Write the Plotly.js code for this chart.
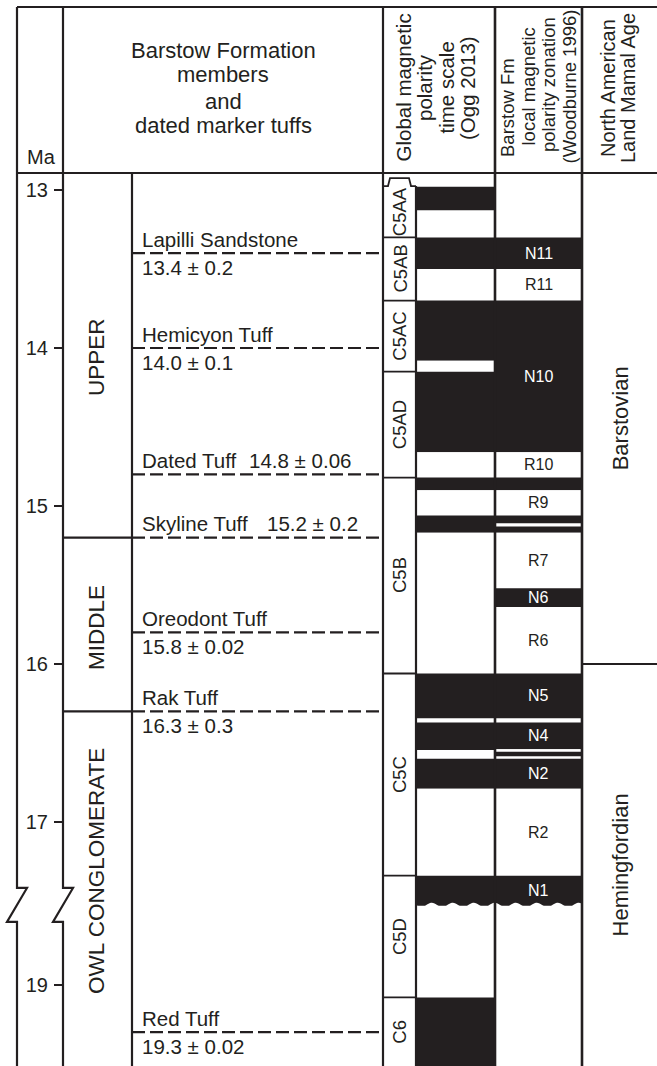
<!DOCTYPE html>
<html><head><meta charset="utf-8">
<script src="https://cdn.plot.ly/plotly-3.0.1.min.js"></script>
<style>html,body{margin:0;padding:0;background:#fff}#chart{width:657px;height:1066px}</style>
</head><body><div id="chart"></div>
<script>
// ================= DATA (ages in Ma) =================
const maTicks    = [13, 14, 15, 16, 17, 19];
const maTickText = ['13', '14', '15', '16', '17', '19'];

const tuffNames = ['Lapilli Sandstone', 'Hemicyon Tuff', 'Dated Tuff', 'Skyline Tuff', 'Oreodont Tuff', 'Rak Tuff', 'Red Tuff'];
const tuffAges  = [13.4, 14.0, 14.8, 15.2, 15.8, 16.3, 19.3];
const tuffDates = ['13.4 ± 0.2', '14.0 ± 0.1', '14.8 ± 0.06', '15.2 ± 0.2', '15.8 ± 0.02', '16.3 ± 0.3', '19.3 ± 0.02'];

const memberNames = ['UPPER', 'MIDDLE', 'OWL CONGLOMERATE'];
const memberTop   = [12.89, 15.2, 16.3];
const memberBase  = [15.2, 16.3, 19.52];

const chronNames = ['C5AA', 'C5AB', 'C5AC', 'C5AD', 'C5B', 'C5C', 'C5D', 'C6'];
const chronTop   = [12.975, 13.30, 13.70, 14.15, 14.82, 16.06, 17.34, 19.08];
const chronBase  = [13.30, 13.70, 14.15, 14.82, 16.06, 17.34, 19.08, 19.52];

// Global polarity time scale (Ogg 2013): 1 = normal (black), 0 = reversed (white)
const gptsTop  = [12.89, 12.98, 13.13, 13.30, 13.50, 13.70, 14.08, 14.15, 14.66, 14.82, 14.90, 15.06, 15.17, 16.06, 16.345, 16.37, 16.545, 16.60, 16.79, 17.34, 18.50, 19.08];
const gptsBase = [12.98, 13.13, 13.30, 13.50, 13.70, 14.08, 14.15, 14.66, 14.82, 14.90, 15.06, 15.17, 16.06, 16.345, 16.37, 16.545, 16.60, 16.79, 17.34, 17.525, 19.08, 19.52];
const gptsPol  = [0, 1, 0, 1, 0, 1, 0, 1, 0, 1, 0, 1, 0, 1, 0, 1, 0, 1, 0, 1, 0, 1];

// Barstow Fm local magnetic polarity zonation (Woodburne 1996)
const locTop   = [12.89, 13.30, 13.50, 13.70, 14.66, 14.82, 14.90, 15.06, 15.11, 15.13, 15.17, 15.52, 15.64, 16.06, 16.345, 16.37, 16.54, 16.555, 16.585, 16.60, 16.79, 17.34, 18.50];
const locBase  = [13.30, 13.50, 13.70, 14.66, 14.82, 14.90, 15.06, 15.11, 15.13, 15.17, 15.52, 15.64, 16.06, 16.345, 16.37, 16.54, 16.555, 16.585, 16.60, 16.79, 17.34, 17.525, 19.52];
const locPol   = [0, 1, 0, 1, 0, 1, 0, 1, 0, 1, 0, 1, 0, 1, 0, 1, 0, 1, 0, 1, 0, 1, 0];
const locLabel = ['', 'N11', 'R11', 'N10', 'R10', '', 'R9', '', '', '', 'R7', 'N6', 'R6', 'N5', '', 'N4', '', '', '', 'N2', 'R2', 'N1', ''];

const nalmaNames = ['Barstovian', 'Hemingfordian'];
const nalmaTop   = [12.89, 16.0];
const nalmaBase  = [16.0, 19.52];

const breakAge = 17.525;  // unconformity / axis break
const breakGap = 0.97;    // time omitted by the break

// ================= LAYOUT / STYLE =================
const W = 657, H = 1066;
const PX13 = 190, PXMA = 158;                // pixel row of 13 Ma, pixels per Ma
const INK = '#231f20';
const FONT = 'Liberation Sans, Arial, Helvetica, sans-serif';
const X = {maL: 17, maR: 63, memR: 132, gL: 383, gC: 416, gR: 495, lR: 582, end: 657};
const HDR_TOP = 7, HDR_BOT = 173;

function disp(a) { return a <= breakAge ? a : Math.max(breakAge, a - breakGap); }
function pyd(py) { return 13 + (py - PX13) / PXMA; }   // pixel row -> axis value
const dpx = 1 / PXMA;                                  // one pixel in axis units
const yTopAxis = pyd(0), yBotAxis = pyd(H);

const shapes = [];
const ann = [];
function rect(x0, x1, y0, y1, fill) {
  shapes.push({type: 'rect', xref: 'x', yref: 'y', x0, x1, y0, y1, fillcolor: fill, line: {width: 0}});
}
function seg(x0, y0, x1, y1, w, dash) {
  shapes.push({type: 'line', xref: 'x', yref: 'y', x0, y0, x1, y1, line: {color: INK, width: w || 2.2, dash: dash || 'solid'}});
}
function poly(pts, w, fill, closed) {
  const d = 'M' + pts.map(p => p[0].toFixed(2) + ',' + p[1].toFixed(5)).join('L') + (closed ? 'Z' : '');
  shapes.push({type: 'path', xref: 'x', yref: 'y', path: d,
    fillcolor: fill || 'rgba(0,0,0,0)', line: {color: INK, width: w}});
}
function text(x, y, t, size, opts) {
  ann.push(Object.assign({x, y, xref: 'x', yref: 'y', text: t, showarrow: false,
    font: {family: FONT, size, color: INK}, xanchor: 'center', yanchor: 'middle'}, opts || {}));
}

// ---- polarity columns ----
function polColumn(tops, bases, pols, x0, x1) {
  for (let i = 0; i < tops.length; i++) {
    const y0 = disp(tops[i]), y1 = disp(bases[i]);
    if (!pols[i]) { rect(x0, x1, y0, y1, '#ffffff'); continue; }
    if (bases[i] === breakAge) {
      const pts = [[x0, y0], [x1, y0]];
      for (let x = x1; x >= x0 - 0.01; x -= 1) {
        pts.push([x, y1 + 2.2 * dpx * Math.sin(2 * Math.PI * (x - X.gC) / 21)]);
      }
      poly(pts, 0, INK, true);
    } else {
      rect(x0, x1, y0, y1, INK);
    }
  }
}
polColumn(gptsTop, gptsBase, gptsPol, X.gC, X.gR);
polColumn(locTop, locBase, locPol, X.gR, X.lR);

// ---- frame ----
seg(X.maL, pyd(HDR_TOP), X.end, pyd(HDR_TOP));
seg(X.maL, pyd(HDR_BOT), X.end, pyd(HDR_BOT));
const zb = disp(breakAge);
function zigzag(x) {
  poly([[x, pyd(HDR_TOP)], [x, zb - 17 * dpx], [x + 10, zb - 17 * dpx], [x - 10, zb + 17 * dpx],
        [x, zb + 17 * dpx], [x, yBotAxis]], 2.2, null, false);
}
zigzag(X.maL);
zigzag(X.maR);
seg(X.memR, pyd(HDR_BOT), X.memR, yBotAxis);
seg(X.gL, pyd(HDR_TOP), X.gL, yBotAxis);
seg(X.gC, disp(chronTop[0]), X.gC, yBotAxis);
seg(X.gR, pyd(HDR_TOP), X.gR, yBotAxis, 2.6);
seg(X.lR, pyd(HDR_TOP), X.lR, yBotAxis, 2.6);

// chron boxes
const ct = disp(chronTop[0]);
poly([[X.gL, ct], [X.gL + 5, ct], [X.gL + 7, ct - 8 * dpx], [X.gC - 7, ct - 8 * dpx], [X.gC - 5, ct], [X.gC, ct]], 1.8, null, false);
for (let i = 1; i < chronTop.length; i++) seg(X.gL, disp(chronTop[i]), X.gC, disp(chronTop[i]), 1.8);
chronNames.forEach((n, i) => text((X.gL + X.gC) / 2, (disp(chronTop[i]) + disp(chronBase[i])) / 2, n, 18.5, {textangle: -90}));

// members
for (let i = 1; i < memberTop.length; i++) seg(X.maR, disp(memberTop[i]), X.memR, disp(memberTop[i]));
const memberLabelPx = [357, 628, 871];
memberNames.forEach((n, i) => text(96, pyd(memberLabelPx[i]), n, 22.5, {textangle: -90}));

// tuffs
const inlineDateX = {2: 247, 3: 265};
tuffAges.forEach((a, i) => {
  seg(X.memR, disp(a), X.gL, disp(a), 2.2, '13px,5px');
  text(140, disp(a), tuffNames[i], 20.5, {xanchor: 'left', yshift: 14});
  if (inlineDateX[i] !== undefined) text(inlineDateX[i], disp(a), tuffDates[i], 20.5, {xanchor: 'left', yshift: 14});
  else text(140, disp(a), tuffDates[i], 20.5, {xanchor: 'left', yshift: -14});
});

// local zone labels
locLabel.forEach((l, i) => {
  if (!l) return;
  text((X.gR + X.lR) / 2, (disp(locTop[i]) + disp(locBase[i])) / 2, l, 16,
       {font: {family: FONT, size: 16, color: locPol[i] ? '#ffffff' : INK}});
});

// NALMA
seg(X.lR, disp(nalmaBase[0]), X.end, disp(nalmaBase[0]));
nalmaNames.forEach((n, i) => {
  const c = (disp(nalmaTop[i]) + disp(nalmaBase[i])) / 2;
  text(620, c, n, 22, {textangle: -90});
});

// ---- header texts ----
text(41, pyd(157), 'Ma', 20);
['Barstow Formation', 'members', 'and', 'dated marker tuffs'].forEach((t, i) =>
  text((X.maR + X.gL) / 2, pyd([50, 74, 101, 125][i]), t, 22));
['Global magnetic', 'polarity', 'time scale', '(Ogg 2013)'].forEach((t, i) =>
  text([402.5, 424, 445.5, 467][i], pyd(88), t, 20.5, {textangle: -90}));
['Barstow Fm', 'local magnetic', 'polarity zonation', '(Woodburne 1996)'].forEach((t, i) =>
  text([507, 527.5, 548, 568.5][i], pyd([108, 87, 85, 87][i]), t, 18.5, {textangle: -90}));
['North American', 'Land Mamal Age'].forEach((t, i) =>
  text([608, 628][i], pyd(88), t, 20, {textangle: -90}));

const layout = {
  width: W, height: H, margin: {l: 0, r: 0, t: 0, b: 0, pad: 0},
  paper_bgcolor: '#ffffff', plot_bgcolor: '#ffffff', showlegend: false,
  xaxis: {range: [0, W], visible: false, fixedrange: true},
  yaxis: {range: [yBotAxis, yTopAxis], anchor: 'free', position: X.maR / W, side: 'left',
    tickvals: maTicks.map(disp), ticktext: maTickText, ticks: 'outside', ticklen: 9, tickwidth: 2.2,
    tickcolor: INK, showline: false, showgrid: false, zeroline: false, automargin: false, fixedrange: true,
    ticklabelstandoff: 2, tickfont: {family: FONT, size: 20, color: INK}},
  shapes: shapes, annotations: ann
};
Plotly.newPlot('chart', [{x: [0], y: [13], type: 'scatter', mode: 'markers', marker: {opacity: 0}, hoverinfo: 'skip'}],
  layout, {staticPlot: true, displayModeBar: false});
</script></body></html>
